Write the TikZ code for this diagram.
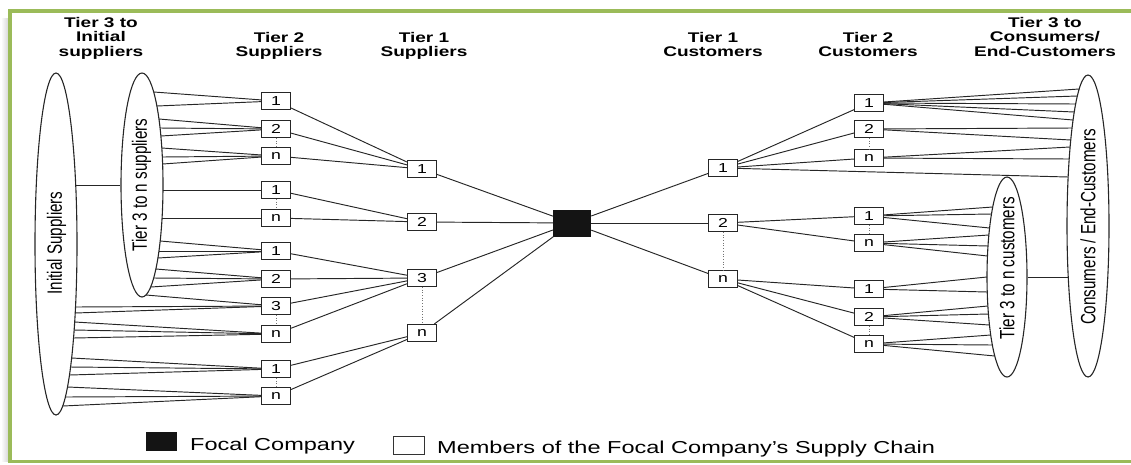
\documentclass[tikz,border=0pt]{standalone}
\usepackage{fontspec}
\setmainfont{Liberation Sans}[FakeStretch=1.36]
\newfontfamily\plainsans{Liberation Sans}
\usepackage{graphicx}
\usetikzlibrary{shapes.geometric,calc}
\definecolor{framegreen}{HTML}{9BBB59}
\newcommand\vstretch[1]{\scalebox{1}[1.36]{\plainsans #1}}
\begin{document}
\begin{tikzpicture}[x=1pt,y=-1pt,
  box/.style={draw=black!85,line width=0.95pt,fill=white,minimum width=29pt,minimum height=17pt,inner sep=0pt,font=\fontsize{13}{13}\selectfont},
  focal/.style={fill=black!92,minimum width=38pt,minimum height=27pt,inner sep=0pt},
  oval/.style={draw=black!85,line width=1.1pt,ellipse,inner sep=0pt},
  link/.style={draw=black!85,line width=0.95pt},
  dots/.style={draw=black!55,dotted,line width=0.7pt},
  hdr/.style={align=center,anchor=north,inner sep=0pt,font=\fontsize{14}{14.5}\selectfont\bfseries},
  ovlab/.style={rotate=90,inner sep=0pt,font=\fontsize{15.2}{16}\selectfont},
  legtext/.style={anchor=base west,inner sep=0pt,font=\fontsize{17.3}{18}\selectfont}]
\useasboundingbox (0,0) rectangle (1131,464);
\clip (0,0) rectangle (1131,464);
% frame
\shade[left color=white,right color=black!16] (1,18) rectangle (8.4,461);
\draw[framegreen,line width=3.5pt] (1145,11) -- (10,11) -- (10,461.3) -- (1145,461.3);
% headers
\node[hdr] (h1) at (101,17) {Tier 3 to\\Initial\\suppliers};
\node[hdr] (h2) at (279,32) {Tier 2\\Suppliers};
\node[hdr] (h3) at (424,32) {Tier 1\\Suppliers};
\node[hdr] (h4) at (713,32) {Tier 1\\Customers};
\node[hdr] (h5) at (868,32) {Tier 2\\Customers};
\node[hdr] (h6) at (1045,17) {Tier 3 to\\Consumers/\\End-Customers};
% ellipses
\node[oval,minimum width=42pt,minimum height=342pt] (IS) at (56,244) {};
\node[oval,minimum width=42pt,minimum height=224pt] (T3S) at (142,185) {};
\node[oval,minimum width=40pt,minimum height=200pt] (T3C) at (1007,277) {};
\node[oval,minimum width=42pt,minimum height=302pt] (CE) at (1088,226) {};
\node[ovlab] (lIS) at (56.5,243) {\vstretch{Initial Suppliers}};
\node[ovlab] (lT3S) at (141.5,185) {\vstretch{Tier 3 to n suppliers}};
\node[ovlab] (lT3C) at (1007,268) {\vstretch{Tier 3 to n customers}};
\node[ovlab] (lCE) at (1088,227) {\vstretch{Consumers / End-Customers}};
% tier 2 suppliers
\node[box] (s2a) at (276,101) {1};
\node[box] (s2b) at (276,129) {2};
\node[box] (s2c) at (276,156) {n};
\node[box] (s2d) at (276,190) {1};
\node[box] (s2e) at (276,218) {n};
\node[box] (s2f) at (276,251) {1};
\node[box] (s2g) at (276,279) {2};
\node[box] (s2h) at (276,306) {3};
\node[box] (s2i) at (276,334) {n};
\node[box] (s2j) at (276,369) {1};
\node[box] (s2k) at (276,396) {n};
% tier 1 suppliers
\node[box] (s1a) at (422,169) {1};
\node[box] (s1b) at (422,222) {2};
\node[box] (s1c) at (422,278) {3};
\node[box] (s1d) at (422,333) {n};
% focal
\node[focal] (F) at (572,223) {};
% tier 1 customers
\node[box] (c1a) at (723,168) {1};
\node[box] (c1b) at (723,223) {2};
\node[box] (c1c) at (723,279) {n};
% tier 2 customers
\node[box] (c2a) at (869,103) {1};
\node[box] (c2b) at (869,129) {2};
\node[box] (c2c) at (869,158) {n};
\node[box] (c2d) at (869,216) {1};
\node[box] (c2e) at (869,243) {n};
\node[box] (c2f) at (869,289) {1};
\node[box] (c2g) at (869,317) {2};
\node[box] (c2h) at (869,344) {n};
% dotted separators
\foreach \a/\b in {s2b/s2c,s2d/s2e,s2h/s2i,s2j/s2k,s1c/s1d,c1b/c1c,c2b/c2c,c2d/c2e,c2g/c2h}
  \draw[dots] (\a.south) -- (\b.north);
% ellipse to ellipse
\coordinate (isr) at ({56+21*sqrt(1-((185-244)/171)^2)},185);
\draw[link] (isr) -- (T3S.west);
\coordinate (cel) at ({1088-21*sqrt(1-((277-226)/151)^2)},277);
\draw[link] (T3C.east) -- (cel);
% tier 3 suppliers to tier 2
\foreach \yy/\bx in {92/s2a,106/s2a,119/s2b,128/s2b,136/s2b,148/s2c,157/s2c,164/s2c,190/s2d,218/s2e,241/s2f,251/s2f,258/s2f,269/s2g,278/s2g,287/s2g,295/s2h}{
  \coordinate (p) at ({142+21*sqrt(max(0,1-((\yy-185)/112)^2))},\yy);
  \draw[link] (p) -- (\bx);}
\foreach \yy/\bx in {307/s2h,313/s2h,322/s2i,330/s2i,338/s2i,358/s2j,367/s2j,375/s2j,387/s2k,397/s2k,406/s2k}{
  \coordinate (p) at ({56+21*sqrt(max(0,1-((\yy-244)/171)^2))},\yy);
  \draw[link] (p) -- (\bx);}
% box to box
\foreach \a/\b in {s2a/s1a,s2b/s1a,s2c/s1a,s2d/s1b,s2e/s1b,s2f/s1c,s2g/s1c,s2h/s1c,s2i/s1c,s2j/s1d,s2k/s1d,
  s1a/F,s1b/F,s1c/F,s1d/F,F/c1a,F/c1b,F/c1c,
  c1a/c2a,c1a/c2b,c1a/c2c,c1b/c2d,c1b/c2e,c1c/c2f,c1c/c2g,c1c/c2h}
  \draw[link] (\a) -- (\b);
% tier 2 customers to end customers
\foreach \yy/\bx in {89/c2a,96/c2a,104/c2a,112/c2a,120/c2a,128/c2b,140/c2b,147/c2c,159/c2c,177/c1a}{
  \coordinate (p) at ({1088-21*sqrt(max(0,1-((\yy-226)/151)^2))},\yy);
  \draw[link] (\bx) -- (p);}
\foreach \yy/\bx in {207/c2d,214/c2d,228/c2d,235/c2e,246/c2e,256/c2e,277/c2f,292/c2f,306/c2g,314/c2g,325/c2g,335/c2h,345/c2h,356/c2h}{
  \coordinate (p) at ({1007-20*sqrt(max(0,1-((\yy-277)/100)^2))},\yy);
  \draw[link] (\bx) -- (p);}
% legend
\node[fill=black!92,minimum width=31pt,minimum height=19pt,inner sep=0pt] (lgf) at (161,441.5) {};
\node[legtext] (lgft) at (190,450) {Focal Company};
\node[draw=black!80,line width=0.9pt,fill=white,minimum width=31pt,minimum height=18pt,inner sep=0pt] (lgm) at (408.5,445) {};
\node[legtext] (lgmt) at (437,453) {Members of the Focal Company’s Supply Chain};
\end{tikzpicture}
\end{document}
